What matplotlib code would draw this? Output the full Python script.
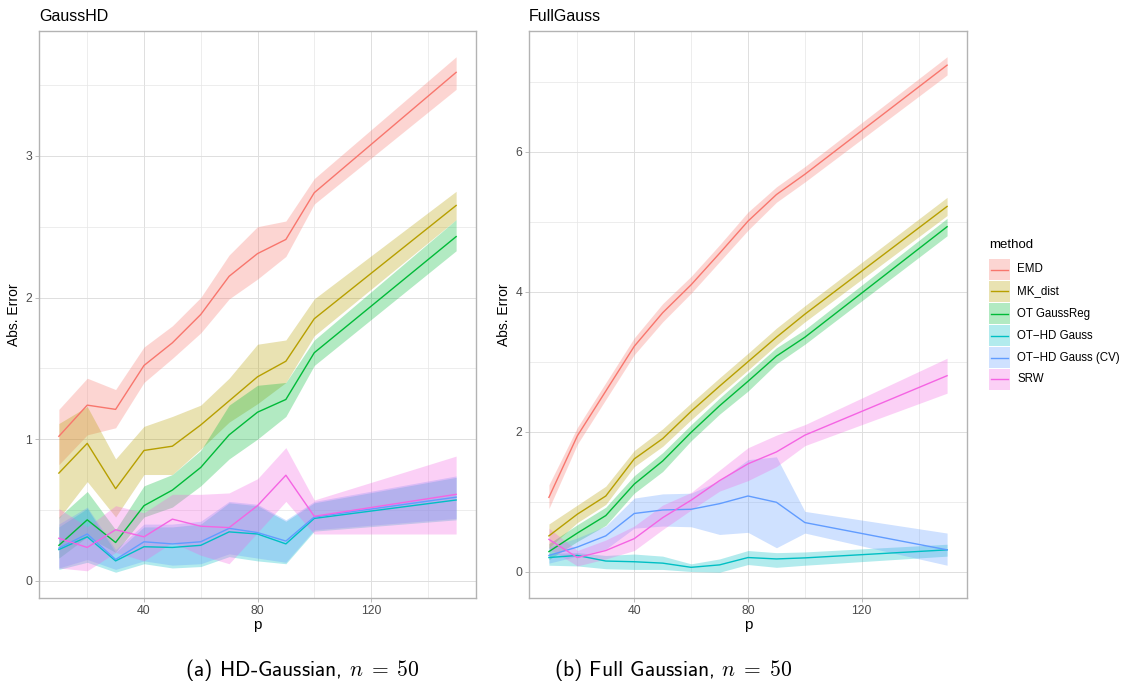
import matplotlib
matplotlib.use("Agg")
import matplotlib.pyplot as plt
from matplotlib.patches import Rectangle
from matplotlib.lines import Line2D

plt.rcParams['font.family'] = ['Liberation Sans', 'DejaVu Sans']
plt.rcParams['mathtext.fontset'] = 'cm'

W, H = 1129, 683

# data
p = [10, 20, 30, 40, 50, 60, 70, 80, 90, 100, 150]
methods = ["EMD", "MK_dist", "OT GaussReg", "OT\u2212HD Gauss", "OT\u2212HD Gauss (CV)", "SRW"]
colors = ["#F8766D", "#B79F00", "#00BA38", "#00BFC4", "#619CFF", "#F564E3"]

# GaussHD panel
emd_hd = [1.02, 1.24, 1.21, 1.52, 1.68, 1.88, 2.15, 2.31, 2.41, 2.74, 3.59]
emd_hd_lo = [0.82, 1.03, 1.08, 1.40, 1.57, 1.75, 1.99, 2.13, 2.29, 2.66, 3.47]
emd_hd_hi = [1.21, 1.43, 1.35, 1.65, 1.80, 2.00, 2.30, 2.50, 2.54, 2.84, 3.70]
mk_hd = [0.76, 0.97, 0.65, 0.92, 0.95, 1.10, 1.27, 1.44, 1.55, 1.85, 2.65]
mk_hd_lo = [0.44, 0.70, 0.45, 0.75, 0.75, 0.93, 1.12, 1.25, 1.40, 1.73, 2.55]
mk_hd_hi = [1.11, 1.23, 0.86, 1.09, 1.16, 1.24, 1.43, 1.67, 1.70, 1.99, 2.75]
gr_hd = [0.25, 0.43, 0.27, 0.53, 0.64, 0.80, 1.03, 1.19, 1.28, 1.61, 2.43]
gr_hd_lo = [0.16, 0.31, 0.20, 0.45, 0.52, 0.67, 0.86, 1.00, 1.16, 1.52, 2.33]
gr_hd_hi = [0.45, 0.63, 0.36, 0.67, 0.75, 0.92, 1.24, 1.38, 1.40, 1.70, 2.55]
ot_hd = [0.22, 0.31, 0.14, 0.24, 0.235, 0.25, 0.345, 0.33, 0.26, 0.44, 0.57]
ot_hd_lo = [0.08, 0.13, 0.06, 0.12, 0.09, 0.10, 0.17, 0.14, 0.12, 0.35, 0.43]
ot_hd_hi = [0.38, 0.51, 0.20, 0.38, 0.38, 0.40, 0.55, 0.53, 0.42, 0.55, 0.73]
cv_hd = [0.23, 0.33, 0.15, 0.275, 0.26, 0.275, 0.37, 0.34, 0.28, 0.45, 0.59]
cv_hd_lo = [0.09, 0.15, 0.08, 0.14, 0.11, 0.12, 0.19, 0.16, 0.13, 0.36, 0.44]
cv_hd_hi = [0.40, 0.52, 0.22, 0.40, 0.40, 0.42, 0.56, 0.54, 0.43, 0.56, 0.74]
srw_hd = [0.30, 0.235, 0.36, 0.31, 0.435, 0.385, 0.375, 0.53, 0.745, 0.455, 0.61]
srw_hd_lo = [0.09, 0.07, 0.20, 0.14, 0.27, 0.18, 0.12, 0.34, 0.56, 0.33, 0.33]
srw_hd_hi = [0.51, 0.38, 0.53, 0.48, 0.61, 0.61, 0.62, 0.72, 0.94, 0.57, 0.88]

# FullGauss panel
emd_fg = [1.06, 1.94, 2.58, 3.22, 3.70, 4.10, 4.55, 5.01, 5.39, 5.68, 7.24]
emd_fg_lo = [0.90, 1.82, 2.46, 3.10, 3.57, 3.98, 4.43, 4.88, 5.28, 5.57, 7.10]
emd_fg_hi = [1.24, 2.06, 2.70, 3.34, 3.83, 4.22, 4.67, 5.14, 5.50, 5.79, 7.36]
mk_fg = [0.51, 0.82, 1.08, 1.61, 1.90, 2.29, 2.65, 3.00, 3.35, 3.68, 5.22]
mk_fg_lo = [0.34, 0.70, 0.96, 1.50, 1.79, 2.17, 2.53, 2.88, 3.24, 3.57, 5.09]
mk_fg_hi = [0.68, 0.95, 1.22, 1.73, 2.04, 2.41, 2.77, 3.12, 3.48, 3.80, 5.35]
gr_fg = [0.285, 0.55, 0.80, 1.25, 1.58, 1.99, 2.37, 2.72, 3.08, 3.35, 4.93]
gr_fg_lo = [0.17, 0.43, 0.66, 1.12, 1.43, 1.87, 2.25, 2.58, 2.97, 3.25, 4.80]
gr_fg_hi = [0.40, 0.67, 0.92, 1.37, 1.70, 2.10, 2.48, 2.84, 3.20, 3.46, 5.05]
ot_fg = [0.20, 0.23, 0.15, 0.14, 0.12, 0.06, 0.095, 0.20, 0.18, 0.195, 0.31]
ot_fg_lo = [0.09, 0.08, 0.04, 0.03, 0.03, 0.00, -0.01, 0.10, 0.06, 0.09, 0.22]
ot_fg_hi = [0.26, 0.27, 0.23, 0.25, 0.22, 0.11, 0.18, 0.30, 0.27, 0.28, 0.39]
cv_fg = [0.23, 0.35, 0.51, 0.83, 0.88, 0.89, 0.97, 1.08, 0.99, 0.70, 0.31]
cv_fg_lo = [0.12, 0.22, 0.32, 0.62, 0.65, 0.64, 0.53, 0.56, 0.34, 0.55, 0.09]
cv_fg_hi = [0.35, 0.48, 0.65, 1.05, 1.11, 1.12, 1.30, 1.60, 1.64, 0.86, 0.55]
srw_fg = [0.46, 0.20, 0.30, 0.47, 0.77, 1.02, 1.30, 1.54, 1.71, 1.95, 2.80]
srw_fg_lo = [0.33, 0.08, 0.18, 0.30, 0.60, 0.88, 1.15, 1.30, 1.50, 1.80, 2.55]
srw_fg_hi = [0.62, 0.30, 0.45, 0.65, 0.95, 1.13, 1.45, 1.77, 1.95, 2.10, 3.05]

hd_series = [(emd_hd, emd_hd_lo, emd_hd_hi), (mk_hd, mk_hd_lo, mk_hd_hi),
             (gr_hd, gr_hd_lo, gr_hd_hi), (ot_hd, ot_hd_lo, ot_hd_hi),
             (cv_hd, cv_hd_lo, cv_hd_hi), (srw_hd, srw_hd_lo, srw_hd_hi)]
fg_series = [(emd_fg, emd_fg_lo, emd_fg_hi), (mk_fg, mk_fg_lo, mk_fg_hi),
             (gr_fg, gr_fg_lo, gr_fg_hi), (ot_fg, ot_fg_lo, ot_fg_hi),
             (cv_fg, cv_fg_lo, cv_fg_hi), (srw_fg, srw_fg_lo, srw_fg_hi)]


def fx(x):
    return x / W


def fy(y):
    return 1 - y / H


def panel(rect, series, title, yticks, yminor):
    ax = fig.add_axes(rect)
    for (mid, lo, hi), c in zip(series, colors):
        ax.fill_between(p, lo, hi, color=c, alpha=0.3, linewidth=0)
    for (mid, lo, hi), c in zip(series, colors):
        ax.plot(p, mid, color=c, linewidth=1.0)
    ax.margins(x=0.05, y=0.05)
    ax.set_xticks([40, 80, 120])
    ax.set_xticks([20, 60, 100, 140], minor=True)
    ax.set_yticks(yticks)
    ax.set_yticks(yminor, minor=True)
    ax.grid(True, which='major', color='#DEDEDE', linewidth=0.7)
    ax.grid(True, which='minor', color='#E6E6E6', linewidth=0.5)
    ax.set_axisbelow(True)
    for s in ax.spines.values():
        s.set_color('#B3B3B3')
        s.set_linewidth(1.0)
    ax.tick_params(which='major', colors='#B3B3B3', labelcolor='#4D4D4D',
                   labelsize=8.8, length=3, width=0.6, pad=2)
    ax.tick_params(which='minor', length=0)
    ax.set_xlabel("p", fontsize=11, labelpad=1)
    ax.set_ylabel("Abs. Error", fontsize=10, labelpad=3)
    ax.set_title(title, loc='left', fontsize=11.5, pad=7)
    return ax


fig = plt.figure(figsize=(W / 100, H / 100), dpi=100)

ax1 = panel([fx(39), fy(598), (476 - 39) / W, (598 - 31) / H], hd_series,
            "GaussHD", [0, 1, 2, 3], [0.5, 1.5, 2.5, 3.5])
ax2 = panel([fx(529), fy(598), (967 - 529) / W, (598 - 31) / H], fg_series,
            "FullGauss", [0, 2, 4, 6], [1, 3, 5, 7])

# legend drawn by hand, ggplot style
fig.text(fx(989), fy(245), "method", fontsize=9.5, va='center', ha='left')
for i, (m, c) in enumerate(zip(methods, colors)):
    top = 259 + 22 * i
    fig.add_artist(Rectangle((fx(989), fy(top + 21)), 21 / W, 21 / H,
                             transform=fig.transFigure, facecolor=c, alpha=0.3,
                             edgecolor='none'))
    fig.add_artist(Line2D([fx(991), fx(1008)], [fy(top + 10.5)] * 2,
                          transform=fig.transFigure, color=c, linewidth=1.0))
    fig.text(fx(1017), fy(top + 10.5), m, fontsize=8.3, va='center', ha='left')

# sub captions
fig.text(fx(302), fy(670), r"(a) HD-Gaussian, $n\;=\;50$", fontsize=15.5,
         family='cmss10', ha='center', va='center')
fig.text(fx(673), fy(670), r"(b) Full Gaussian, $n\;=\;50$", fontsize=15.5,
         family='cmss10', ha='center', va='center')

fig.savefig("out.png", dpi=100)
